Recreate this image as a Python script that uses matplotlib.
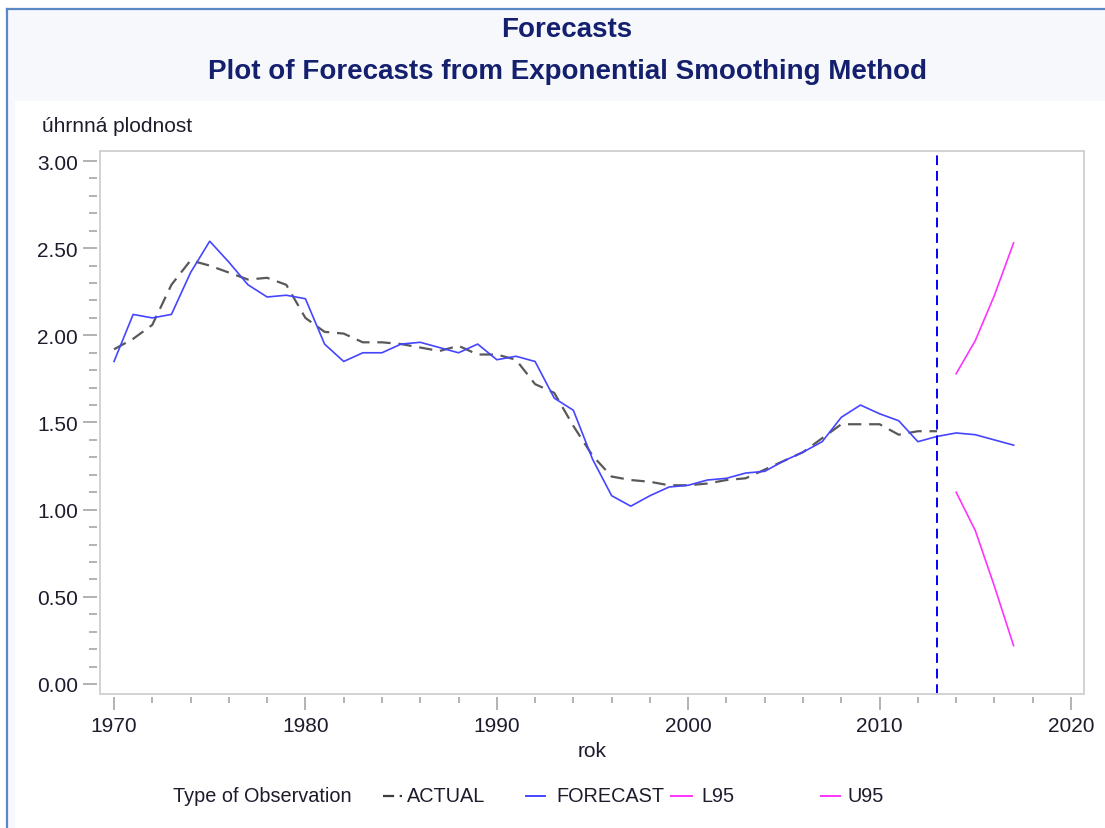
import matplotlib
matplotlib.use("Agg")
import matplotlib.pyplot as plt
from matplotlib.lines import Line2D
from matplotlib.patches import Rectangle
from matplotlib.ticker import MultipleLocator, FormatStrFormatter

# ---- data -------------------------------------------------------------
years_actual = list(range(1970, 2014))
actual = [1.92, 1.98, 2.06, 2.29, 2.43, 2.40, 2.36, 2.32, 2.33, 2.29,
          2.10, 2.02, 2.01, 1.96, 1.96, 1.95, 1.93, 1.91, 1.94, 1.89,
          1.89, 1.86, 1.72, 1.67, 1.48, 1.31, 1.19, 1.17, 1.16, 1.14,
          1.14, 1.15, 1.17, 1.18, 1.23, 1.28, 1.33, 1.41, 1.49, 1.49,
          1.49, 1.43, 1.45, 1.45]

years_forecast = list(range(1970, 2018))
forecast = [1.85, 2.12, 2.10, 2.12, 2.36, 2.54, 2.42, 2.29, 2.22, 2.23,
            2.21, 1.95, 1.85, 1.90, 1.90, 1.95, 1.96, 1.93, 1.90, 1.95,
            1.86, 1.88, 1.85, 1.64, 1.57, 1.29, 1.08, 1.02, 1.08, 1.13,
            1.14, 1.17, 1.18, 1.21, 1.22, 1.28, 1.33, 1.39, 1.53, 1.60,
            1.55, 1.51, 1.39, 1.42, 1.44, 1.43, 1.40, 1.37]

years_ci = [2014, 2015, 2016, 2017]
l95 = [1.10, 0.88, 0.56, 0.22]
u95 = [1.78, 1.97, 2.23, 2.53]

forecast_start = 2013

title_main = "Forecasts"
title_sub = "Plot of Forecasts from Exponential Smoothing Method"
y_label = "úhrnná plodnost"
x_label = "rok"
legend_title = "Type of Observation"
legend_labels = ["ACTUAL", "FORECAST", "L95", "U95"]

# ---- styling ----------------------------------------------------------
W, H = 1105, 829
plt.rcParams["font.family"] = ["Liberation Sans", "DejaVu Sans"]
TITLE_COLOR = "#141f6e"
TEXT_COLOR = "#1c1c2c"
BLUE = "#4545ff"
MAGENTA = "#ff33ff"
GREY_DASH = "#3c3c3c"
BOX = "#d2d2d2"
TICK = "#a6a6a6"

fig = plt.figure(figsize=(W / 100, H / 100), dpi=100)
fig.patch.set_facecolor("white")


def fx(px):
    return px / W


def fy(py):
    return 1 - py / H


# header band and outer frame
band = "#f6f8fc"
fig.add_artist(Rectangle((fx(7), fy(102)), fx(W - 7), (102 - 10) / H,
                         transform=fig.transFigure, facecolor=band,
                         edgecolor="none", zorder=0))
fig.add_artist(Rectangle((fx(7), 0), fx(8), fy(102),
                         transform=fig.transFigure, facecolor=band,
                         edgecolor="none", zorder=0))
fig.add_artist(Line2D([fx(7), 1], [fy(10), fy(10)], transform=fig.transFigure,
                      color="#5b87c6", lw=1.6))
fig.add_artist(Line2D([fx(7), fx(7)], [fy(10), 0], transform=fig.transFigure,
                      color="#5b87c6", lw=1.6))

fig.text(fx(567), fy(30), title_main, ha="center", va="center",
         fontsize=20, fontweight="bold", color=TITLE_COLOR)
fig.text(fx(567), fy(72), title_sub, ha="center", va="center",
         fontsize=20, fontweight="bold", color=TITLE_COLOR)

# ---- axes -------------------------------------------------------------
ax_l, ax_r, ax_t, ax_b = 100, 1084, 152, 695
ax = fig.add_axes([fx(ax_l), fy(ax_b), (ax_r - ax_l) / W, (ax_b - ax_t) / H])
ax.set_facecolor("white")
ax.set_xlim(1969.268, 2020.679)
ax.set_ylim(-0.0574, 3.0574)

for side in ("top", "right"):
    ax.spines[side].set_visible(False)
for side in ("left", "bottom"):
    ax.spines[side].set_position(("outward", 2))
    ax.spines[side].set_visible(False)
ax.add_patch(Rectangle((0, 0), 1, 1, transform=ax.transAxes, fill=False,
                       edgecolor=BOX, lw=1.4, clip_on=False, zorder=5))

ax.xaxis.set_major_locator(MultipleLocator(10))
ax.xaxis.set_minor_locator(MultipleLocator(2))
ax.yaxis.set_major_locator(MultipleLocator(0.5))
ax.yaxis.set_minor_locator(MultipleLocator(0.1))
ax.yaxis.set_major_formatter(FormatStrFormatter("%.2f"))

ax.tick_params(axis="x", which="major", length=9.5, width=1.2, color=TICK,
               labelsize=15, labelcolor=TEXT_COLOR, pad=4)
ax.tick_params(axis="x", which="minor", length=4.5, width=1.2, color=TICK)
ax.tick_params(axis="y", which="major", length=10, width=1.2, color=TICK,
               labelsize=15, labelcolor=TEXT_COLOR, pad=4)
ax.tick_params(axis="y", which="minor", length=5.5, width=1.2, color=TICK)

# series
ax.plot(years_actual, actual, color=GREY_DASH, lw=1.6, dashes=(6, 3.5),
        alpha=0.85, zorder=3)
ax.plot(years_forecast, forecast, color=BLUE, lw=1.2, zorder=4)
ax.plot(years_ci, l95, color=MAGENTA, lw=1.2, zorder=4)
ax.plot(years_ci, u95, color=MAGENTA, lw=1.2, zorder=4)
ax.axvline(forecast_start, color="#0000ff", lw=1.4, dashes=(5, 3), zorder=4)

fig.text(fx(42), fy(127), y_label, ha="left", va="center", fontsize=15,
         color=TEXT_COLOR)
fig.text(fx(592), fy(752), x_label, ha="center", va="center", fontsize=15,
         color=TEXT_COLOR)

# ---- legend row -------------------------------------------------------
ly = fy(797)
fig.text(fx(173), ly, legend_title, ha="left", va="center", fontsize=14.3,
         color=TEXT_COLOR)
samples = [
    ((383, 402), dict(color=GREY_DASH, lw=1.6, dashes=(5, 2.5, 1.5, 2.5))),
    ((526, 545), dict(color=BLUE, lw=1.4)),
    ((671, 692), dict(color=MAGENTA, lw=1.4)),
    ((821, 840), dict(color=MAGENTA, lw=1.4)),
]
text_x = [407, 556, 701, 847]
for ((x1, x2), style), tx, lab in zip(samples, text_x, legend_labels):
    fig.add_artist(Line2D([fx(x1), fx(x2)], [ly, ly],
                          transform=fig.transFigure, **style))
    fig.text(fx(tx), ly, lab, ha="left", va="center", fontsize=14.3,
             color=TEXT_COLOR)

fig.savefig("out.png", dpi=100)
